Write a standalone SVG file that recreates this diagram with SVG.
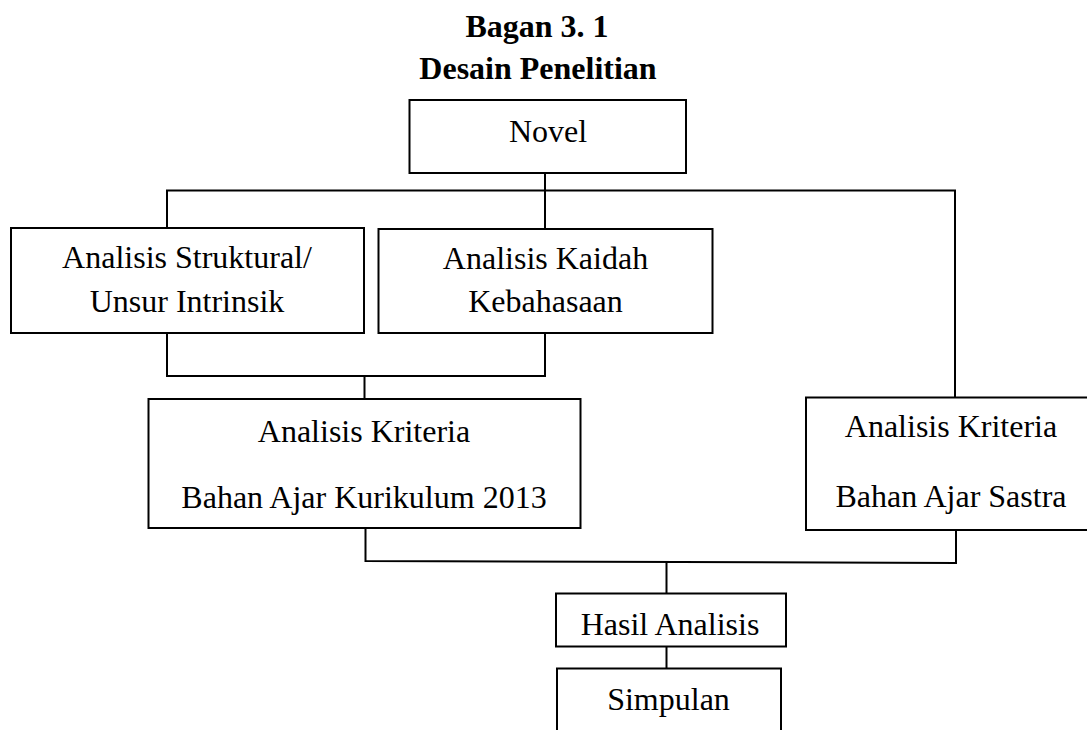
<svg xmlns="http://www.w3.org/2000/svg" width="1087" height="730" viewBox="0 0 1087 730">
<style>
.box{fill:#fff;stroke:#000;stroke-width:2}
.t{font-family:"Liberation Serif","Times New Roman",serif;font-size:32px;fill:#000;text-anchor:middle}
.title{font-weight:bold}
.c{fill:none;stroke:#000;stroke-width:2}
</style>
<rect width="1087" height="730" fill="#fff"/>
<g id="title">
<text class="t title" x="537" y="37">Bagan 3. 1</text>
<text class="t title" x="538" y="79">Desain Penelitian</text>
</g>
<g id="connectors">
<path class="c" d="M545 173 V191"/>
<path class="c" d="M167 228 V190.5 H956"/>
<path class="c" d="M545 190 V229"/>
<path class="c" d="M955 190 V398"/>
<path class="c" d="M167 333 V376 H545 V333"/>
<path class="c" d="M364.5 376 V399"/>
<path class="c" d="M365.5 528 V561 L956 563 V530"/>
<path class="c" d="M666.5 562 V594"/>
<path class="c" d="M666.5 647 V668"/>
</g>
<g id="novel">
<rect class="box" x="409.5" y="100" width="276.5" height="73"/>
<text class="t" x="548" y="142">Novel</text>
</g>
<g id="struktural">
<rect class="box" x="11" y="228" width="353" height="105"/>
<text class="t" x="187" y="268">Analisis Struktural/</text>
<text class="t" x="187" y="312">Unsur Intrinsik</text>
</g>
<g id="kaidah">
<rect class="box" x="378.5" y="229" width="334" height="104"/>
<text class="t" x="545.5" y="269">Analisis Kaidah</text>
<text class="t" x="545.5" y="312">Kebahasaan</text>
</g>
<g id="kriteria2013">
<rect class="box" x="148.5" y="399" width="432" height="129"/>
<text class="t" x="364" y="442">Analisis Kriteria</text>
<text class="t" x="364" y="508">Bahan Ajar Kurikulum 2013</text>
</g>
<g id="kriteriaSastra">
<rect class="box" x="806" y="397.5" width="290" height="132.5"/>
<text class="t" x="951" y="437">Analisis Kriteria</text>
<text class="t" x="951" y="507">Bahan Ajar Sastra</text>
</g>
<g id="hasil">
<rect class="box" x="556" y="593.5" width="230" height="53"/>
<text class="t" x="670" y="635">Hasil Analisis</text>
</g>
<g id="simpulan">
<rect class="box" x="557" y="668.5" width="224" height="80"/>
<text class="t" x="668.5" y="710">Simpulan</text>
</g>
</svg>
